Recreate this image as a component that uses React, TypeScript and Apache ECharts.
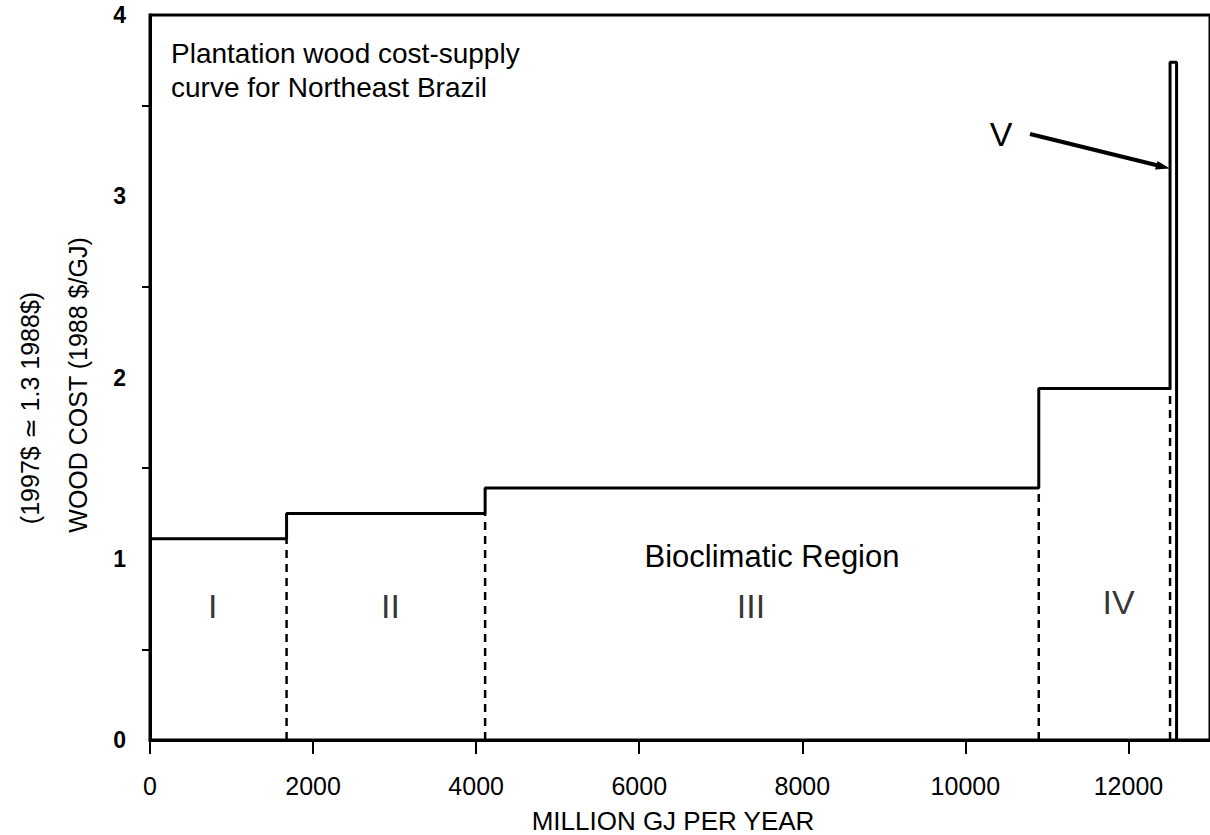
import React, { useEffect, useRef } from "react";
import * as echarts from "echarts";

// Region boundaries (million GJ per year) and wood cost per region (1988 $/GJ)
const xBreaks = [0, 1675, 4110, 10900, 12510, 12590];
const costs = [1.11, 1.25, 1.39, 1.94, 3.74];
const regionNumerals = ["I", "II", "III", "IV"];
const numeralX = [770, 2950, 7370, 11880];
const numeralY = [0.74, 0.74, 0.74, 0.76];
const xTicks = [0, 2000, 4000, 6000, 8000, 10000, 12000];
const yTicks = [0, 1, 2, 3, 4];

const FONT = "'Liberation Sans', Arial, Helvetica, sans-serif";

export default function App() {
  const ref = useRef<HTMLDivElement>(null);

  useEffect(() => {
    if (!ref.current) return;
    const chart = echarts.init(ref.current, undefined, { renderer: "svg" });

    const stepPts: number[][] = [];
    costs.forEach((c, i) => {
      stepPts.push([xBreaks[i], c]);
      stepPts.push([xBreaks[i + 1], c]);
    });
    stepPts.push([xBreaks[xBreaks.length - 1], 0]);

    const dashedSeries = xBreaks.slice(1, xBreaks.length - 1).map((b, i) => ({
      type: "line",
      data: [
        [b, 0],
        [b, costs[i]],
      ],
      showSymbol: false,
      silent: true,
      lineStyle: { color: "#000", width: 2.5, type: [8, 6] },
      z: 3,
    }));

    chart.setOption({
      animation: false,
      backgroundColor: "#fff",
      textStyle: { fontFamily: FONT },
      grid: {
        left: 150,
        top: 15,
        width: 1071,
        height: 725,
        show: true,
        borderColor: "#000",
        borderWidth: 3,
        containLabel: false,
      },
      xAxis: {
        type: "value",
        min: 0,
        max: 13000,
        interval: 2000,
        axisLine: { show: true, lineStyle: { color: "#000", width: 3 } },
        axisTick: { show: true, length: 14, lineStyle: { color: "#000", width: 2 } },
        axisLabel: {
          color: "#000",
          fontSize: 25,
          fontFamily: FONT,
          margin: 33,
          showMaxLabel: false,
          formatter: (v: number) => (xTicks.indexOf(v) >= 0 ? String(v) : ""),
        },
        splitLine: { show: false },
      },
      yAxis: {
        type: "value",
        min: 0,
        max: 4,
        interval: 1,
        axisLine: { show: true, lineStyle: { color: "#000", width: 3 } },
        axisTick: { show: false },
        minorTick: { show: true, splitNumber: 2, length: 8, lineStyle: { color: "#000", width: 2 } },
        axisLabel: {
          color: "#000",
          fontSize: 23,
          fontWeight: "bold",
          fontFamily: FONT,
          margin: 24,
          formatter: (v: number) => (yTicks.indexOf(v) >= 0 ? String(v) : ""),
        },
        splitLine: { show: false },
      },
      series: [
        {
          type: "line",
          data: stepPts,
          showSymbol: false,
          silent: true,
          lineStyle: { color: "#000", width: 3 },
          z: 4,
        },
        ...dashedSeries,
        {
          type: "scatter",
          symbolSize: 0,
          silent: true,
          data: regionNumerals.map((n, i) => ({ name: n, value: [numeralX[i], numeralY[i]] })),
          label: {
            show: true,
            position: "inside",
            formatter: (p: any) => p.name,
            color: "#000",
            fontSize: 34,
            fontFamily: FONT,
          },
        },
      ],
      graphic: [
        {
          type: "text",
          left: 171,
          top: 36,
          style: {
            text: "Plantation wood cost-supply\ncurve for Northeast Brazil",
            font: `28px ${FONT}`,
            lineHeight: 34,
            fill: "#000",
          },
        },
        {
          type: "text",
          x: 772,
          y: 556,
          style: {
            text: "Bioclimatic Region",
            font: `31px ${FONT}`,
            fill: "#000",
            align: "center",
            verticalAlign: "middle",
          },
        },
        {
          type: "text",
          x: 1001,
          y: 134,
          style: {
            text: "V",
            font: `34px ${FONT}`,
            fill: "#000",
            align: "center",
            verticalAlign: "middle",
          },
        },
        {
          type: "line",
          shape: { x1: 1030, y1: 134, x2: 1160, y2: 166 },
          style: { stroke: "#000", lineWidth: 4 },
        },
        {
          type: "polygon",
          shape: { points: [[1170, 168.5], [1155, 169.5], [1157.5, 161]] },
          style: { fill: "#000" },
        },
        {
          type: "text",
          x: 673,
          y: 821,
          style: {
            text: "MILLION GJ PER YEAR",
            font: `26px ${FONT}`,
            fill: "#000",
            align: "center",
            verticalAlign: "middle",
          },
        },
        {
          type: "text",
          x: 78,
          y: 385,
          rotation: Math.PI / 2,
          style: {
            text: "WOOD COST (1988 $/GJ)",
            font: `25px ${FONT}`,
            fill: "#000",
            align: "center",
            verticalAlign: "middle",
          },
        },
        {
          type: "text",
          x: 30,
          y: 408,
          rotation: Math.PI / 2,
          style: {
            text: "(1997$ \u2243 1.3 1988$)",
            font: `25px ${FONT}`,
            fill: "#000",
            align: "center",
            verticalAlign: "middle",
          },
        },
      ],
    });

    return () => chart.dispose();
  }, []);

  return (
    <div
      ref={ref}
      style={{ position: "fixed", left: 0, top: 0, width: 1210, height: 835, background: "#fff" }}
    />
  );
}
